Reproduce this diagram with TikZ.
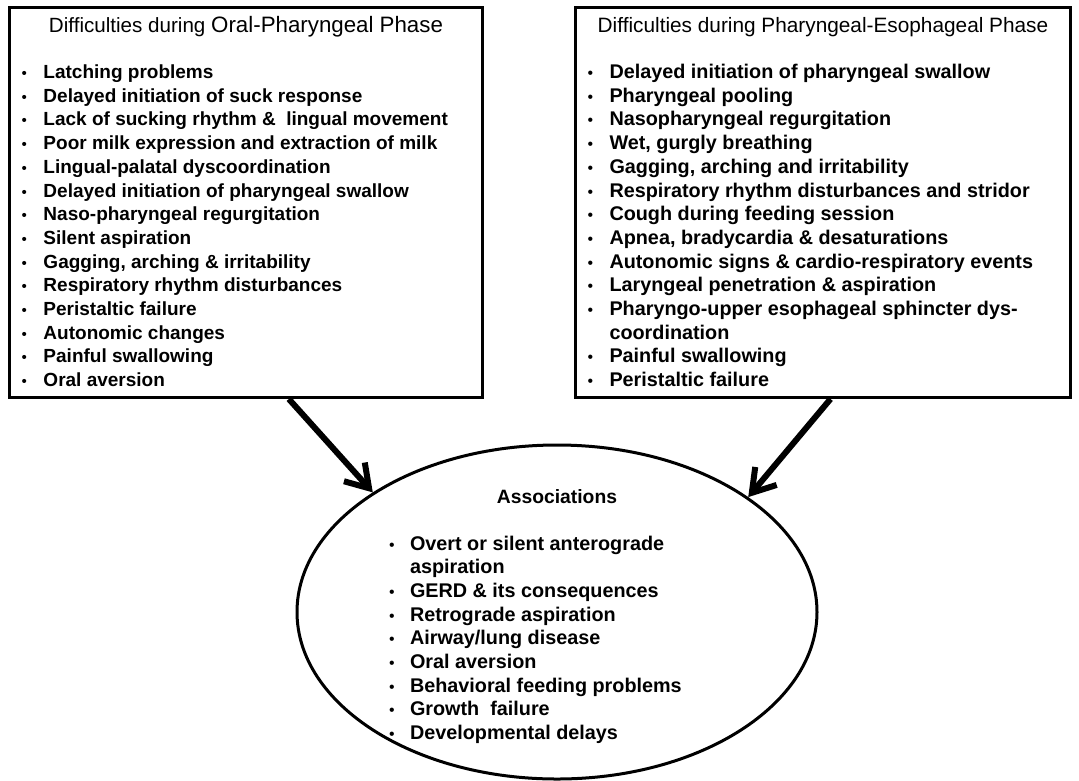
\documentclass[tikz,border=0pt]{standalone}
\usepackage{fontspec}
\setmainfont{Liberation Sans}
\usetikzlibrary{arrows.meta, positioning, calc, shapes.geometric}

% one bullet line with hanging indent
\newcommand{\itm}[2][24pt]{\par\noindent\hangindent=#1\hangafter=1\makebox[#1][l]{\hspace{2pt}{\mdseries\scalebox{0.8}{\textbullet}}}#2}

\begin{document}
\begin{tikzpicture}[
    x=1pt, y=-1pt,
    >={Straight Barb[length=22pt, width=28pt]},
    panel/.style={draw, line width=3pt, inner sep=0pt, minimum height=390pt},
    link/.style={->, line width=6pt},
]
    \useasboundingbox (0,0) rectangle (1079,780);

    \node[panel, minimum width=473pt, anchor=north west] (oral) at (8,6) {%
        \raisebox{170pt}[0pt][0pt]{\parbox[t]{453pt}{%
            {\centering\fontsize{20.6}{23.7}\selectfont Difficulties during {\fontsize{22.3}{23.7}\selectfont Oral-Pharyngeal Phase}\par}
            \vspace{22.3pt}
            \raggedright\fontsize{19}{23.7}\selectfont\bfseries
            \itm{Latching problems}
            \itm{Delayed initiation of suck response}
            \itm{Lack of sucking rhythm \&\ \ lingual movement}
            \itm{Poor milk expression and extraction of milk}
            \itm{Lingual-palatal dyscoordination}
            \itm{Delayed initiation of pharyngeal swallow}
            \itm{Naso-pharyngeal regurgitation}
            \itm{Silent aspiration}
            \itm{Gagging, arching \& irritability}
            \itm{Respiratory rhythm disturbances}
            \itm{Peristaltic failure}
            \itm{Autonomic changes}
            \itm{Painful swallowing}
            \itm{Oral aversion}\par}}};

    \node[panel, minimum width=495pt, right=90pt of oral] (esoph) {%
        \raisebox{170pt}[0pt][0pt]{\parbox[t]{475pt}{%
            {\centering\fontsize{20.8}{23.7}\selectfont Difficulties during Pharyngeal-Esophageal Phase\par}
            \vspace{22.3pt}
            \raggedright\fontsize{19.8}{23.7}\selectfont\bfseries
            \itm{Delayed initiation of pharyngeal swallow}
            \itm{Pharyngeal pooling}
            \itm{Nasopharyngeal regurgitation}
            \itm{Wet, gurgly breathing}
            \itm{Gagging, arching and irritability}
            \itm{Respiratory rhythm disturbances and stridor}
            \itm{Cough during feeding session}
            \itm{Apnea, bradycardia \& desaturations}
            \itm{Autonomic signs \& cardio-respiratory events}
            \itm{Laryngeal penetration \& aspiration}
            \itm{Pharyngo-upper esophageal sphincter dys-\newline coordination}
            \itm{Painful swallowing}
            \itm{Peristaltic failure}\par}}};

    \node[ellipse, draw, line width=3pt, inner sep=0pt, minimum width=520pt, minimum height=334pt] (assoc) at (557,612) {%
        \raisebox{109pt}[0pt][0pt]{\parbox[t]{340pt}{%
            \fontsize{19.3}{23.7}\selectfont\bfseries
            {\centering Associations\par}
            \vspace{23.3pt}
            \raggedright\fontsize{19.8}{23.7}\selectfont
            \itm[23pt]{Overt or silent anterograde\newline aspiration}
            \itm[23pt]{GERD \& its consequences}
            \itm[23pt]{Retrograde aspiration}
            \itm[23pt]{Airway/lung disease}
            \itm[23pt]{Oral aversion}
            \itm[23pt]{Behavioral feeding problems}
            \itm[23pt]{Growth\ \ failure}
            \itm[23pt]{Developmental delays}\par}}};

    \draw[link] ($(oral.south west)!0.59!(oral.south east)$) -- (assoc.147);
    \draw[link] ($(esoph.south west)!0.515!(esoph.south east)$) -- (assoc.31.5);
\end{tikzpicture}
\end{document}
